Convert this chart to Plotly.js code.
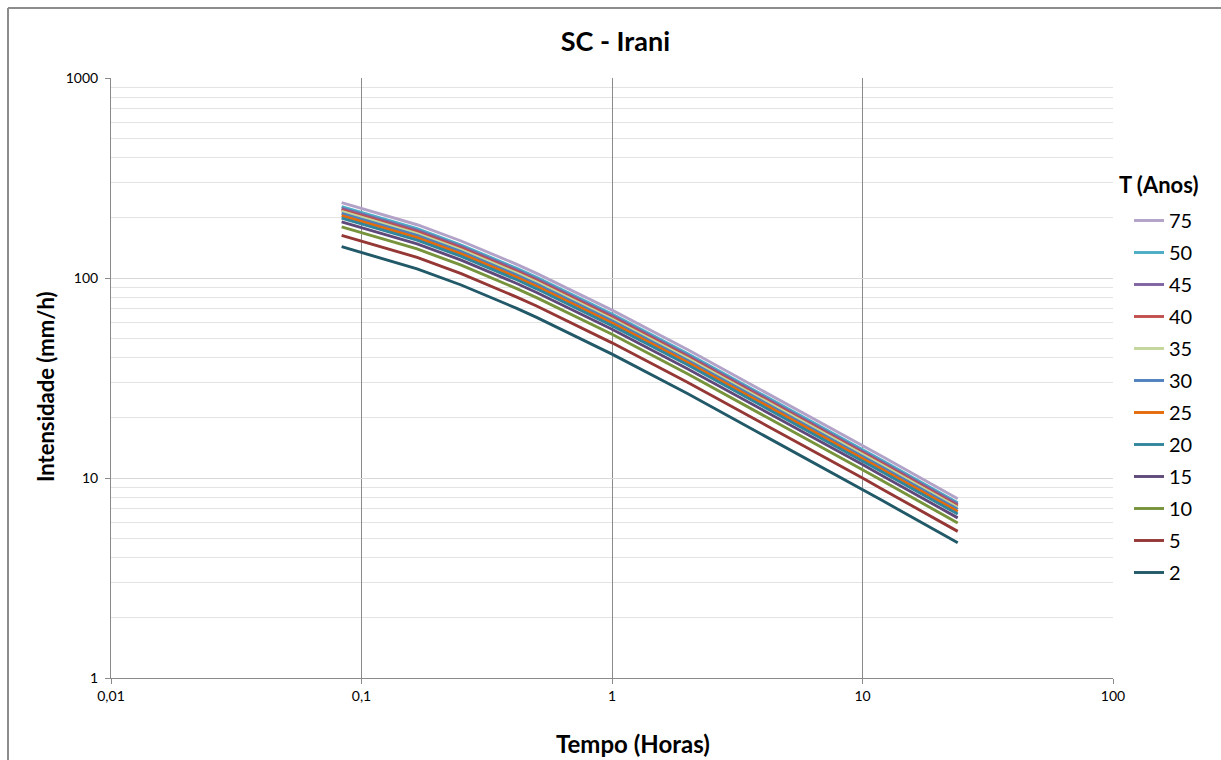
<!DOCTYPE html>
<html>
<head>
<meta charset="utf-8">
<script src="https://cdn.plot.ly/plotly-3.0.1.min.js"></script>
<style>
html,body{margin:0;padding:0;background:#fff;}
#chart{width:1221px;height:760px;}
</style>
</head>
<body>
<div id="chart"></div>
<script>
// Durations (hours): 5,10,15,20,25,30 min, 1,2,6,8,10,12,24 h
const durations = [0.0833, 0.1667, 0.25, 0.3333, 0.4167, 0.5, 1, 2, 6, 8, 10, 12, 24];

const seriesNames = ['75','50','45','40','35','30','25','20','15','10','5','2'];

const t75 = [238.0, 184.6, 153.1, 132.1, 117.0, 105.4, 69.1, 43.9, 20.73, 16.98, 14.54, 12.80, 7.88];
const t50 = [227.3, 176.3, 146.2, 126.2, 111.7, 100.7, 66.0, 41.9, 19.80, 16.21, 13.88, 12.22, 7.52];
const t45 = [223.0, 172.9, 143.4, 123.8, 109.6, 98.8, 64.7, 41.1, 19.42, 15.91, 13.62, 11.99, 7.38];
const t40 = [219.1, 169.9, 141.0, 121.6, 107.7, 97.1, 63.6, 40.4, 19.08, 15.63, 13.39, 11.78, 7.25];
const t35 = [215.1, 166.8, 138.4, 119.4, 105.7, 95.3, 62.4, 39.7, 18.74, 15.35, 13.14, 11.57, 7.12];
const t30 = [210.5, 163.2, 135.4, 116.9, 103.4, 93.2, 61.1, 38.8, 18.34, 15.02, 12.86, 11.32, 6.97];
const t25 = [205.3, 159.2, 132.1, 114.0, 100.9, 91.0, 59.6, 37.9, 17.89, 14.65, 12.54, 11.04, 6.80];
const t20 = [199.3, 154.6, 128.2, 110.6, 98.0, 88.3, 57.8, 36.8, 17.36, 14.22, 12.18, 10.72, 6.60];
const t15 = [191.0, 148.1, 122.9, 106.0, 93.9, 84.6, 55.4, 35.2, 16.64, 13.63, 11.67, 10.27, 6.32];
const t10 = [180.1, 139.7, 115.9, 100.0, 88.5, 79.8, 52.3, 33.2, 15.69, 12.85, 11.00, 9.68, 5.96];
const t5  = [163.5, 126.8, 105.2, 90.7, 80.3, 72.4, 47.4, 30.1, 14.24, 11.66, 9.99, 8.79, 5.41];
const t2  = [143.4, 111.2, 92.25, 79.6, 70.47, 63.52, 41.61, 26.44, 12.49, 10.23, 8.76, 7.71, 4.746];

const seriesValues = [t75, t50, t45, t40, t35, t30, t25, t20, t15, t10, t5, t2];
const seriesColors = ['#b3a2c7','#4bacc6','#8064a2','#c0504d','#c3d69b','#4f81bd','#e46c0a','#31859c','#5f497a','#77933c','#953735','#215968'];

const xTickVals = [0.01, 0.1, 1, 10, 100];
const xTickText = ['0,01', '0,1', '1', '10', '100'];
const yTickVals = [1, 10, 100, 1000];
const yTickText = ['1', '10', '100', '1000'];

const font = 'Lato, "Open Sans", "DejaVu Sans", sans-serif';

const traces = seriesNames.map((n, i) => ({
  type: 'scatter',
  mode: 'lines',
  name: n,
  legendgroup: 'g' + n,
  x: durations,
  y: seriesValues[i],
  line: {color: seriesColors[i], width: 2.9},
  hoverinfo: 'x+y+name'
}));

// pixel -> paper helpers for plot area (111..1113, 78..678)
const px = v => (v - 111) / 1002;
const py = v => (678 - v) / 600;

const layout = {
  width: 1221,
  height: 760,
  margin: {l: 111, r: 108, t: 78, b: 82},
  paper_bgcolor: '#ffffff',
  plot_bgcolor: '#ffffff',
  font: {family: font, color: '#000'},
  title: {
    text: '<b>SC - Irani</b>',
    font: {family: font, size: 27, color: '#000'},
    xref: 'container', x: 0.504, xanchor: 'center',
    yref: 'container', y: 1 - 42/760, yanchor: 'middle'
  },
  xaxis: {
    type: 'log',
    range: [-2, 2],
    tickvals: xTickVals,
    ticktext: xTickText,
    tickfont: {family: font, size: 14, color: '#000'},
    showgrid: true,
    gridcolor: '#8a8a8a',
    gridwidth: 1,
    showline: true,
    linecolor: '#8a8a8a',
    linewidth: 1,
    ticks: 'outside',
    ticklen: 5,
    tickcolor: '#8a8a8a',
    zeroline: false,
    automargin: false
  },
  yaxis: {
    type: 'log',
    range: [0, 3],
    tickvals: yTickVals,
    ticktext: yTickText,
    tickfont: {family: font, size: 14, color: '#000'},
    showgrid: true,
    gridcolor: '#d9d9d9',
    gridwidth: 1,
    minor: {dtick: 'D1', showgrid: true, gridcolor: '#e3e3e3', gridwidth: 1, ticks: ''},
    showline: true,
    linecolor: '#8a8a8a',
    linewidth: 1,
    ticks: 'outside',
    ticklen: 5,
    tickcolor: '#8a8a8a',
    ticklabelstandoff: 4,
    zeroline: false,
    automargin: false
  },
  legend: {
    font: {family: font, size: 20, color: '#000'},
    x: px(1129),
    xanchor: 'left',
    y: py(201),
    yanchor: 'top',
    bgcolor: 'rgba(0,0,0,0)',
    borderwidth: 0,
    traceorder: 'grouped',
    tracegroupgap: 3
  },
  annotations: [
    {text: '<b>T (Anos)</b>', xref: 'paper', yref: 'paper',
     x: px(1117), xanchor: 'left', y: py(184), yanchor: 'middle',
     showarrow: false, font: {family: font, size: 22, color: '#000'}},
    {text: '<b>Tempo (Horas)</b>', xref: 'paper', yref: 'paper',
     x: px(633), xanchor: 'center', y: py(743), yanchor: 'middle',
     showarrow: false, font: {family: font, size: 24, color: '#000'}},
    {text: '<b>Intensidade (mm/h)</b>', xref: 'paper', yref: 'paper',
     x: px(45), xanchor: 'center', y: py(387), yanchor: 'middle', textangle: -90,
     showarrow: false, font: {family: font, size: 22, color: '#000'}}
  ],
  showlegend: true,
  shapes: [
    {type: 'line', xref: 'paper', yref: 'paper', x0: px(8), x1: px(8), y0: -0.3, y1: py(8), line: {color: '#8c8c8c', width: 2}},
    {type: 'line', xref: 'paper', yref: 'paper', x0: px(8), x1: 1.3, y0: py(8), y1: py(8), line: {color: '#8c8c8c', width: 2}}
  ]
};

Plotly.newPlot('chart', traces, layout, {displayModeBar: false, responsive: false});
</script>
</body>
</html>
